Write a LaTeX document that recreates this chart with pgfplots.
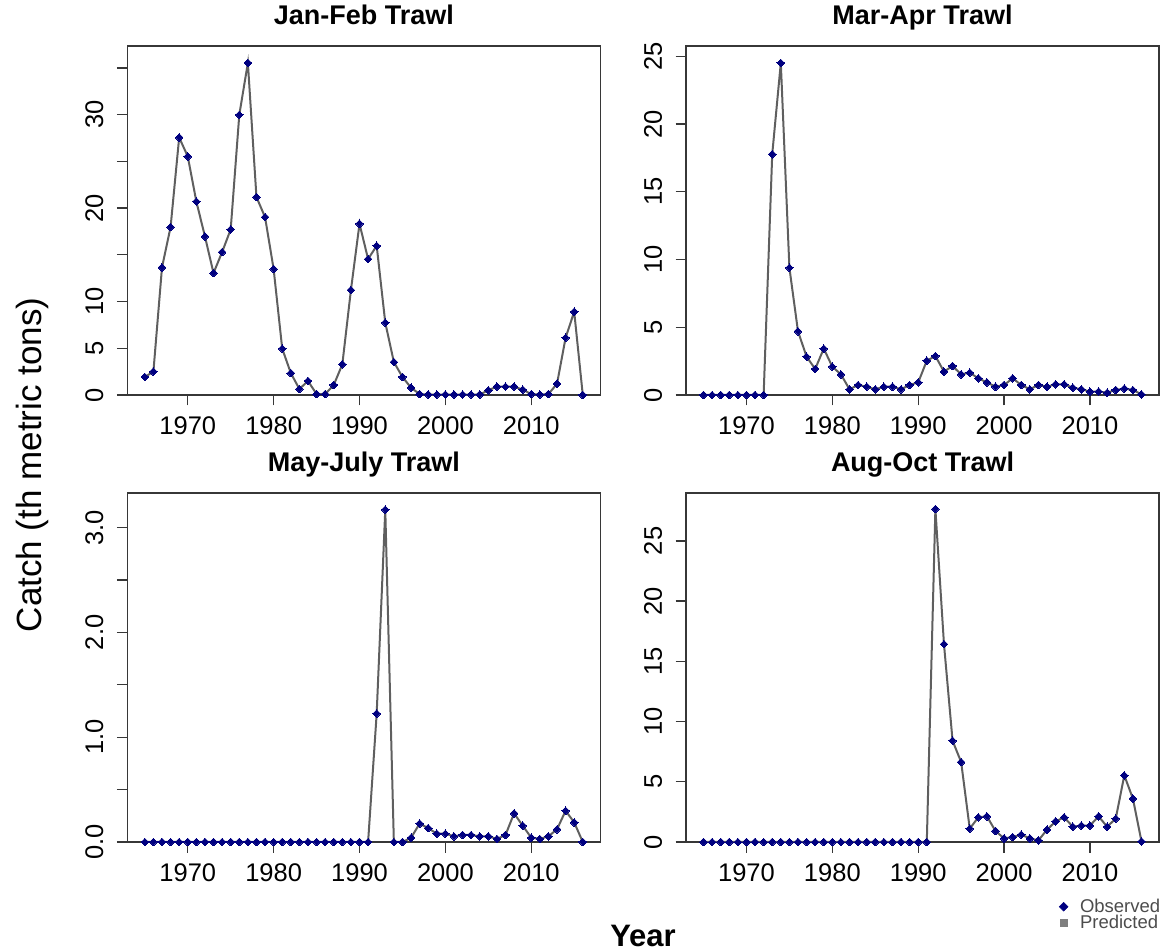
\documentclass[border=0pt]{standalone}
\usepackage{pgfplots}
\usepackage{pgfplotstable}
\pgfplotsset{compat=1.18}
\usepackage{fontspec}
\setmainfont{Liberation Sans}
\definecolor{obs}{RGB}{0,0,128}
\definecolor{pred}{RGB}{95,95,95}
\definecolor{frm}{RGB}{55,55,55}

\pgfplotstableread{
year v
1965 1.93
1966 2.5
1967 13.65
1968 17.97
1969 27.56
1970 25.53
1971 20.71
1972 16.97
1973 13.05
1974 15.29
1975 17.72
1976 29.98
1977 35.54
1978 21.18
1979 19.04
1980 13.48
1981 4.96
1982 2.35
1983 0.64
1984 1.5
1985 0.1
1986 0.1
1987 1.07
1988 3.28
1989 11.23
1990 18.32
1991 14.55
1992 15.97
1993 7.74
1994 3.53
1995 1.93
1996 0.78
1997 0.1
1998 0.05
1999 0.05
2000 0.05
2001 0.05
2002 0.05
2003 0.05
2004 0.05
2005 0.5
2006 0.9
2007 0.9
2008 0.9
2009 0.57
2010 0.1
2011 0.05
2012 0.1
2013 1.2
2014 6.13
2015 8.91
2016 0
}\janfeb

\pgfplotstableread{
year v
1965 0
1966 0
1967 0
1968 0
1969 0
1970 0
1971 0
1972 0
1973 17.77
1974 24.51
1975 9.39
1976 4.70
1977 2.83
1978 1.92
1979 3.42
1980 2.09
1981 1.52
1982 0.42
1983 0.74
1984 0.61
1985 0.42
1986 0.61
1987 0.61
1988 0.42
1989 0.74
1990 0.93
1991 2.53
1992 2.88
1993 1.72
1994 2.14
1995 1.52
1996 1.65
1997 1.23
1998 0.93
1999 0.61
2000 0.74
2001 1.23
2002 0.74
2003 0.42
2004 0.74
2005 0.61
2006 0.79
2007 0.79
2008 0.54
2009 0.42
2010 0.25
2011 0.25
2012 0.17
2013 0.37
2014 0.47
2015 0.37
2016 0.05
}\marapr

\pgfplotstableread{
year v
1965 0
1966 0
1967 0
1968 0
1969 0
1970 0
1971 0
1972 0
1973 0
1974 0
1975 0
1976 0
1977 0
1978 0
1979 0
1980 0
1981 0
1982 0
1983 0
1984 0
1985 0
1986 0
1987 0
1988 0
1989 0
1990 0
1991 0
1992 1.225
1993 3.171
1994 0
1995 0
1996 0.04
1997 0.175
1998 0.133
1999 0.079
2000 0.079
2001 0.054
2002 0.067
2003 0.067
2004 0.054
2005 0.054
2006 0.029
2007 0.067
2008 0.273
2009 0.156
2010 0.041
2011 0.029
2012 0.054
2013 0.121
2014 0.298
2015 0.187
2016 0
}\mayjul

\pgfplotstableread{
year v
1965 0
1966 0
1967 0
1968 0
1969 0
1970 0
1971 0
1972 0
1973 0
1974 0
1975 0
1976 0
1977 0
1978 0
1979 0
1980 0
1981 0
1982 0
1983 0
1984 0
1985 0
1986 0
1987 0
1988 0
1989 0
1990 0
1991 0
1992 27.65
1993 16.43
1994 8.41
1995 6.64
1996 1.11
1997 2.05
1998 2.13
1999 0.91
2000 0.30
2001 0.41
2002 0.61
2003 0.30
2004 0.14
2005 1.02
2006 1.71
2007 2.05
2008 1.27
2009 1.36
2010 1.36
2011 2.13
2012 1.27
2013 1.94
2014 5.53
2015 3.60
2016 0.05
}\augoct

\pgfplotsset{
  panel/.style={
    scale only axis, width=473bp, height=349bp,
    anchor=south west,
    xmin=1962.96, xmax=2018.04, ymin=0,
    clip=false,
    axis line style={frm, line width=1.3bp},
    tick style={frm, line width=1.3bp},
    major tick length=10.5bp, tick align=outside,
    xtick pos=left, ytick pos=left,
    xtick={1970,1980,1990,2000,2010},
    xticklabels={1970,1980,1990,2000,2010},
    tick label style={font=\fontsize{25.5bp}{30bp}\selectfont, inner sep=0pt},
    xticklabel style={anchor=north, yshift=-11bp},
    yticklabel style={rotate=90, anchor=south, yshift=13.3bp},
    title style={font=\bfseries\fontsize{27bp}{32bp}\selectfont, at={(0.5,1)}, anchor=base, yshift=15.5bp, inner sep=0pt},
  },
  obsline/.style={pred, line width=2bp, mark=square*, mark size=2.7bp,
    mark options={rotate=45, fill=obs, draw=obs, line width=0pt}},
}

\begin{document}
\begin{tikzpicture}
\useasboundingbox (0,0) rectangle (1169bp,952bp);

\begin{axis}[panel, at={(127.3bp,557bp)}, ymax=37.35,
  title={Jan-Feb Trawl},
  ytick={0,5,10,15,20,25,30,35},
  yticklabels={0,5,10,{},20,{},30,{}}]
\addplot[obsline] table[x=year,y=v]{\janfeb};
\end{axis}

\begin{axis}[panel, at={(686bp,557bp)}, ymax=25.76,
  title={Mar-Apr Trawl},
  ytick={0,5,10,15,20,25},
  yticklabels={0,5,10,15,20,25}]
\addplot[obsline] table[x=year,y=v]{\marapr};
\end{axis}

\begin{axis}[panel, at={(127.3bp,110bp)}, ymax=3.33,
  title={May-July Trawl},
  ytick={0,0.5,1,1.5,2,2.5,3},
  yticklabels={0.0,{},1.0,{},2.0,{},3.0}]
\addplot[obsline] table[x=year,y=v]{\mayjul};
\end{axis}

\begin{axis}[panel, at={(686bp,110bp)}, ymax=28.98,
  title={Aug-Oct Trawl},
  ytick={0,5,10,15,20,25},
  yticklabels={0,5,10,15,20,25},
  legend cell align=left,
  legend style={draw=none, fill=none, at={(1.003,-0.253)}, anchor=south east,
    font=\fontsize{18.5bp}{18.5bp}\selectfont, text=black!70, inner sep=0pt,
    row sep=1bp, column sep=12bp, nodes={inner sep=0pt}},
  legend image code/.code={\draw[#1] plot coordinates {(0bp,0bp)};}]
\addplot[obsline, forget plot] table[x=year,y=v]{\augoct};
\addlegendimage{only marks, mark=square*, mark size=3.1bp, mark options={rotate=45, fill=obs, draw=obs}}
\addlegendentry{Observed}
\addlegendimage{only marks, mark=square*, mark size=3.3bp, mark options={fill=pred!80, draw=pred!80}}
\addlegendentry{Predicted}
\end{axis}

\node[font=\bfseries\fontsize{31bp}{36bp}\selectfont, anchor=base, inner sep=0pt] at (643bp,6bp) {Year};
\node[font=\fontsize{35bp}{40bp}\selectfont, anchor=base, rotate=90, inner sep=0pt] at (41bp,487bp) {Catch (th metric tons)};
\end{tikzpicture}
\end{document}
